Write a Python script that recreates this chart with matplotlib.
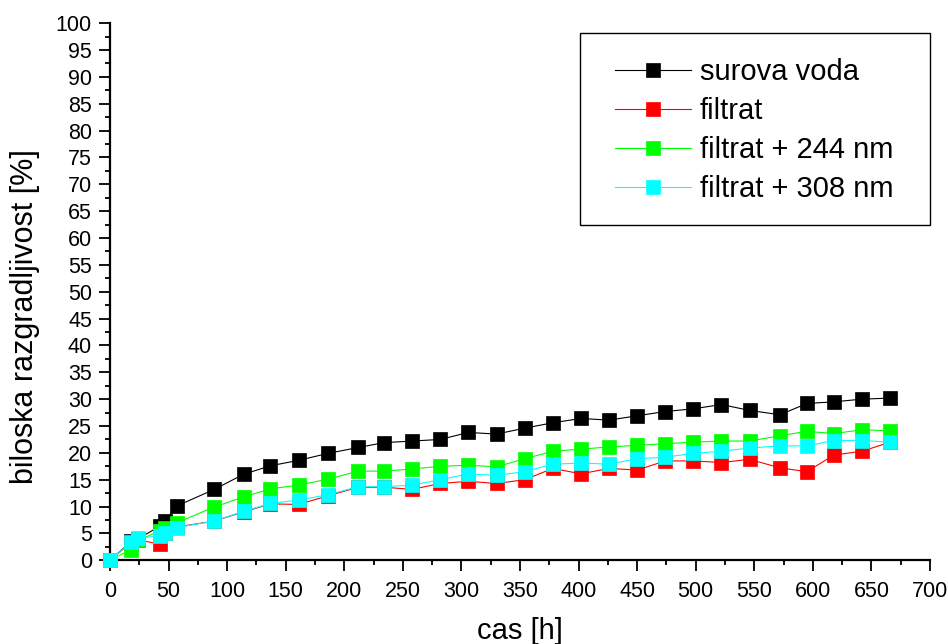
import matplotlib
matplotlib.use("Agg")
import matplotlib.pyplot as plt
from matplotlib.patches import Rectangle
from matplotlib.ticker import MultipleLocator

plt.rcParams['font.family'] = ['Liberation Sans', 'DejaVu Sans']

# sampling times [h]
cas = [0, 18, 24, 43, 47, 57, 89, 114, 137, 161, 186, 212, 234, 258, 282, 306,
       330, 354, 378, 402, 426, 450, 474, 498, 522, 546, 572, 595, 618, 642, 666]

surova_voda = [0, 3.5, 4.0, 6.4, 7.3, 10.1, 13.2, 16.0, 17.6, 18.6, 19.9, 21.0, 21.9,
               22.2, 22.5, 23.8, 23.5, 24.6, 25.6, 26.4, 26.1, 26.9, 27.7, 28.2,
               29.0, 27.9, 27.1, 29.2, 29.5, 30.0, 30.2]
filtrat = [0, 3.3, 3.8, 3.0, 5.0, 6.2, 7.3, 9.0, 10.5, 10.4, 12.0, 13.6, 13.6,
           13.2, 14.3, 14.7, 14.3, 15.0, 17.1, 16.1, 17.1, 16.8, 18.5, 18.5,
           18.2, 18.8, 17.2, 16.5, 19.6, 20.3, 22.0]
filtrat_244 = [0, 2.0, 3.7, 5.5, 6.0, 7.0, 9.9, 11.8, 13.3, 14.0, 15.1, 16.6, 16.6,
               17.0, 17.5, 17.7, 17.4, 18.9, 20.3, 20.7, 21.1, 21.4, 21.7, 22.0,
               22.2, 22.2, 23.2, 24.0, 23.6, 24.3, 24.1]
filtrat_308 = [0, 3.4, 4.1, 4.6, 5.0, 6.1, 7.3, 9.1, 10.6, 11.2, 12.2, 13.7, 13.7,
               14.0, 15.0, 16.1, 15.8, 16.5, 17.9, 18.1, 17.9, 18.9, 19.2, 19.9,
               20.3, 20.9, 21.3, 21.3, 22.3, 22.3, 22.0]

series = [
    ("surova voda", surova_voda, "#000000"),
    ("filtrat", filtrat, "#ff0000"),
    ("filtrat + 244 nm", filtrat_244, "#00ff00"),
    ("filtrat + 308 nm", filtrat_308, "#00ffff"),
]

W, H = 948, 644
fig = plt.figure(figsize=(W / 100, H / 100), dpi=100)
ax = fig.add_axes([0.116, 0.130, 0.865, 0.834])

for i, (label, vals, col) in enumerate(series):
    ax.plot(cas, vals, color=col, lw=0.8, marker='s', markersize=9.5,
            markerfacecolor=col, markeredgecolor=col, markeredgewidth=0.5,
            label=label, clip_on=False, zorder=3 + i)

ax.set_xlim(0, 700)
ax.set_ylim(0, 100)
ax.xaxis.set_major_locator(MultipleLocator(50))
ax.xaxis.set_minor_locator(MultipleLocator(25))
ax.yaxis.set_major_locator(MultipleLocator(5))
ax.yaxis.set_minor_locator(MultipleLocator(2.5))

for side in ('top', 'right'):
    ax.spines[side].set_visible(False)
for side in ('left', 'bottom'):
    ax.spines[side].set_linewidth(1.6)

ax.tick_params(which='major', direction='out', length=8, width=1.3,
               labelsize=15.5, pad=5)
ax.tick_params(axis='x', which='major', pad=7)
ax.tick_params(which='minor', direction='out', length=3.6, width=1.3)

ax.set_xlabel("cas [h]", fontsize=21, labelpad=11)
ax.set_ylabel("biloska razgradljivost [%]", fontsize=22)
ax.yaxis.set_label_coords(-0.0854, 0.454)

# legend entries without their own frame, boxed by a separate rectangle
leg = ax.legend(loc='upper left', bbox_to_anchor=(615 / W, 1 - 58 / H),
                bbox_transform=fig.transFigure, fontsize=21, frameon=False,
                handlelength=2.6, handletextpad=0.3, labelspacing=0.38,
                borderpad=0, borderaxespad=0, markerscale=1.0)
box = Rectangle((580 / W, 1 - 225 / H), 350 / W, 192 / H,
                transform=fig.transFigure, fill=False, edgecolor='black',
                linewidth=1.0, zorder=10)
fig.patches.append(box)

fig.savefig("out.png", dpi=100)
